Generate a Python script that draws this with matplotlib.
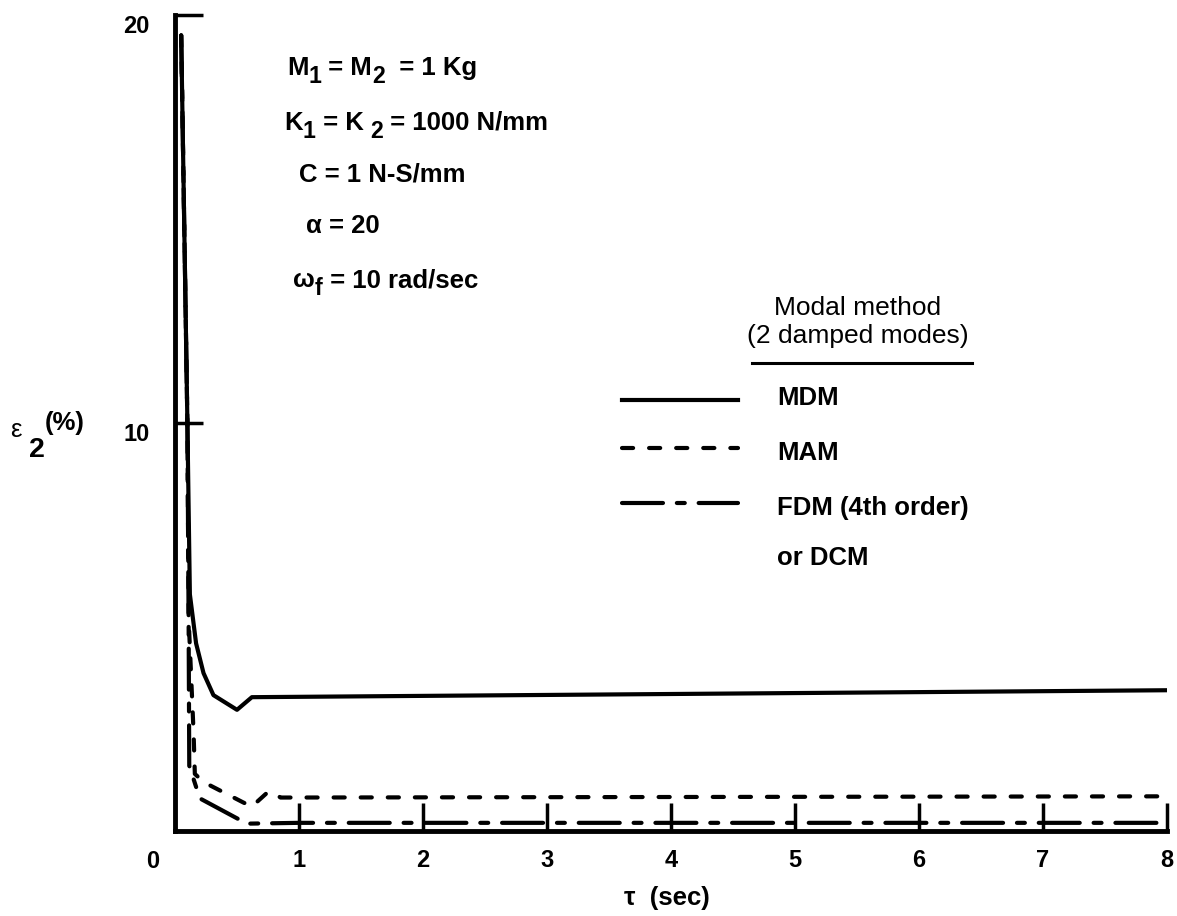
import numpy as np
import matplotlib.pyplot as plt
from matplotlib.lines import Line2D
from matplotlib.transforms import ScaledTranslation

plt.rcParams['font.family'] = ['Liberation Sans', 'DejaVu Sans']
plt.rcParams['lines.scale_dashes'] = False

# ── Data ─────────────────────────────────────────────────────────────────────
tau_mdm = [0.05, 0.10, 0.12, 0.17, 0.23, 0.31, 0.50, 0.62, 8.0]
eps_mdm = [19.5, 10.0, 5.8, 4.6, 3.87, 3.33, 2.97, 3.28, 3.45]

tau_mam = [0.05, 0.10, 0.11, 0.15, 0.16, 0.23, 0.55, 0.62, 0.74, 0.79, 0.85, 8.0]
eps_mam = [19.5, 10.0, 5.2, 2.4, 1.4, 1.2, 0.70, 0.60, 0.93, 0.96, 0.82, 0.85]

tau_fdm = [0.05, 0.10, 0.11, 0.115, 0.20, 0.58, 1.0, 8.0]
eps_fdm = [19.5, 10.0, 5.0, 1.6, 0.80, 0.18, 0.20, 0.20]

x_ticks = [1, 2, 3, 4, 5, 6, 7, 8]
y_ticks = [10, 20]

# parameter lines as (text, is_subscript) pieces
params = [[('M', 0), ('1', 1), (' = M', 0), ('2', 1), ('  = 1 Kg', 0)],
          [('K', 0), ('1', 1), (' = K ', 0), ('2', 1), (' = 1000 N/mm', 0)],
          [('C = 1 N-S/mm', 0)],
          [('α = 20', 0)],
          [('ω', 0), ('f', 1), (' = 10 rad/sec', 0)]]
legend_names = ['MDM', 'MAM', 'FDM (4th order)']

# ── Styles ────────────────────────────────────────────────────────────────────
LW = 3.0
FS = 18.5
FW = 'bold'
styles = [dict(linestyle='-'),
          dict(dashes=(8, 11.5)),
          dict(dashes=(29.5, 10, 5.7, 10))]

W, H = 1177, 916
fig = plt.figure(figsize=(W / 100, H / 100), dpi=100)
ax = fig.add_axes([175 / W, 1 - 831 / H, (1167 - 175) / W, (831 - 15) / H])
renderer = fig.canvas.get_renderer()


def px(x, y):
    return x / W, 1 - y / H


def rich(x, y, pieces, fs=FS, drop=8):
    # y is the baseline in pixels from the top; subscripts are dropped
    for s, sub in pieces:
        t = fig.text(*px(x, y + drop * sub), s, fontsize=fs * (0.9 if sub else 1),
                     fontweight=FW, ha='left', va='baseline')
        x += t.get_window_extent(renderer).width


for t, e, st in zip([tau_mdm, tau_mam, tau_fdm], [eps_mdm, eps_mam, eps_fdm], styles):
    ax.plot(t, e, color='black', lw=LW, solid_capstyle='round',
            dash_capstyle='round', solid_joinstyle='round', **st)

ax.set_xlim(0, 8)
ax.set_ylim(0, 20)
ax.spines[['top', 'right']].set_visible(False)
ax.spines[['left', 'bottom']].set_linewidth(3.5)
ax.set_xticks(x_ticks)
ax.set_yticks(y_ticks)
ax.tick_params(direction='in', length=20, width=2.5, labelsize=17)
ax.tick_params(axis='x', pad=13)
ax.tick_params(axis='y', pad=18)
shift = ScaledTranslation(0, -9 / 100, fig.dpi_scale_trans)
for lab in ax.get_xticklabels() + ax.get_yticklabels():
    lab.set_fontweight(FW)
for lab in ax.get_yticklabels():
    lab.set_transform(lab.get_transform() + shift)

# origin label sits below-left of the corner
fig.text(*px(153, 862), '0', fontsize=17, fontweight=FW, ha='center', va='center')

# axis labels
fig.text(*px(667, 898), 'τ  (sec)', fontsize=FS, fontweight=FW, ha='center', va='center')
fig.text(*px(16, 430), 'ε', fontsize=FS, ha='center', va='center')
fig.text(*px(37, 450), '2', fontsize=FS + 2, fontweight=FW, ha='center', va='center')
fig.text(*px(65, 423), '(%)', fontsize=FS, fontweight=FW, ha='center', va='center')

# parameter block
param_pos = [(287, 75), (284, 130), (299, 182), (306, 233), (293, 287)]
for pieces, (x, y) in zip(params, param_pos):
    rich(x, y, pieces)

# hand-drawn legend
fig.text(*px(858, 315), 'Modal method', fontsize=19, ha='center', va='baseline')
fig.text(*px(858, 343), '(2 damped modes)', fontsize=19, ha='center', va='baseline')
fig.add_artist(Line2D([752 / W, 972 / W], [1 - 363 / H, 1 - 363 / H],
                      color='black', lw=2.2, transform=fig.transFigure))
line_y = [400, 448, 503]
text_y = [405, 460, 515]
for name, st, ly, ty in zip(legend_names, styles, line_y, text_y):
    fig.add_artist(Line2D([622 / W, 738 / W], [1 - ly / H, 1 - ly / H], color='black',
                          lw=LW, dash_capstyle='round', transform=fig.transFigure, **st))
    fig.text(*px(777, ty), name, fontsize=FS, fontweight=FW, ha='left', va='baseline')
fig.text(*px(777, 565), 'or DCM', fontsize=FS, fontweight=FW, ha='left', va='baseline')

plt.savefig('out.png', dpi=100)
